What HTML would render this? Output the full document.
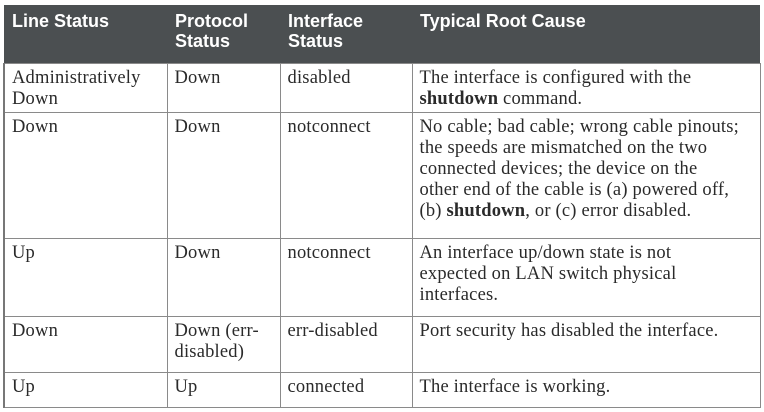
<!DOCTYPE html>
<html><head><style>
body{margin:0;background:#fff;width:764px;height:412px;overflow:hidden}
table{position:absolute;left:3px;top:5px;border-collapse:collapse;width:756px;table-layout:fixed}
th{background:#4b4f51;color:#fff;font:bold 18px/20px "Liberation Sans",sans-serif;text-align:left;vertical-align:top;padding:6px 8px 0;height:58px;box-sizing:border-box;white-space:nowrap}
td{font:18.5px/21px "Liberation Serif",serif;letter-spacing:0.2px;color:#2a2a2a;vertical-align:top;padding:4px 7px 0;border:1.5px solid #8a8a8a;box-sizing:border-box;white-space:nowrap;overflow:hidden}
tr.r td:first-child{border-left:2px solid #777}
</style></head><body>
<table>
<colgroup><col style="width:163px"><col style="width:113px"><col style="width:132px"><col style="width:348px"></colgroup>
<tr><th>Line Status</th><th>Protocol<br>Status</th><th>Interface<br>Status</th><th>Typical Root Cause</th></tr>
<tr class="r" style="height:49px"><td>Administratively<br>Down</td><td>Down</td><td>disabled</td><td>The interface is configured with the<br><b>shutdown</b> command.</td></tr>
<tr class="r" style="height:126px"><td>Down</td><td>Down</td><td>notconnect</td><td>No cable; bad cable; wrong cable pinouts;<br>the speeds are mismatched on the two<br>connected devices; the device on the<br>other end of the cable is (a) powered off,<br>(b) <b>shutdown</b>, or (c) error disabled.</td></tr>
<tr class="r" style="height:78px"><td>Up</td><td>Down</td><td>notconnect</td><td>An interface up/down state is not<br>expected on LAN switch physical<br>interfaces.</td></tr>
<tr class="r" style="height:56px"><td>Down</td><td>Down (err-<br>disabled)</td><td>err-disabled</td><td>Port security has disabled the interface.</td></tr>
<tr class="r" style="height:35px"><td>Up</td><td>Up</td><td>connected</td><td>The interface is working.</td></tr>
</table>
</body></html>
